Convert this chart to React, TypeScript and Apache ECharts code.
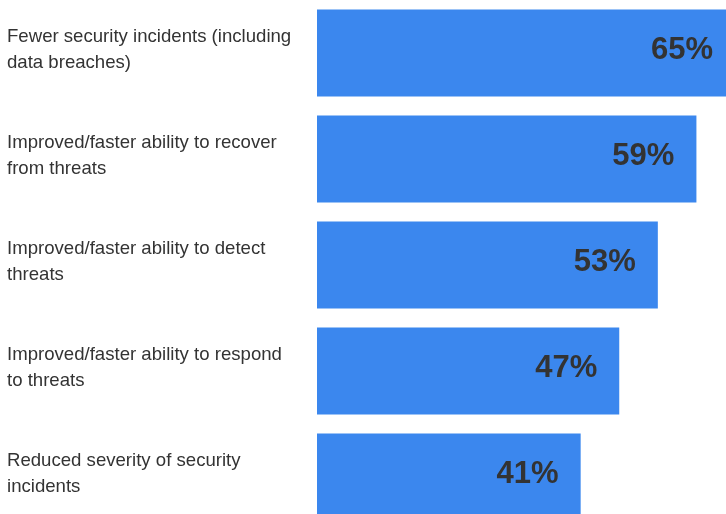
import React, { useEffect, useRef } from "react";
import * as echarts from "echarts";

const categories = [
  "Fewer security incidents (including\ndata breaches)",
  "Improved/faster ability to recover\nfrom threats",
  "Improved/faster ability to detect\nthreats",
  "Improved/faster ability to respond\nto threats",
  "Reduced severity of security\nincidents",
];
const values = [65, 59, 53, 47, 41];

export default function App() {
  const ref = useRef<HTMLDivElement>(null);
  useEffect(() => {
    const chart = echarts.init(ref.current!, undefined, { renderer: "svg" });
    chart.setOption({
      animation: false,
      grid: { left: 317, right: 0, top: 0, bottom: 0, containLabel: false },
      xAxis: {
        type: "value",
        min: 0,
        max: 65,
        show: false,
      },
      yAxis: {
        type: "category",
        data: categories,
        inverse: true,
        axisLine: { show: false },
        axisTick: { show: false },
        splitLine: { show: false },
        axisLabel: {
          align: "left",
          margin: 310,
          fontSize: 18.6,
          lineHeight: 26,
          color: "#333333",
          fontFamily: "'Liberation Sans', Arial, sans-serif",
          formatter: (v: string) => v + "\n{s| }",
          rich: { s: { lineHeight: 9, fontSize: 1 } },
        },
      },
      series: [
        {
          type: "bar",
          data: values,
          barWidth: 87,
          clip: false,
          itemStyle: { color: "#3b87ee" },
          label: {
            show: true,
            position: "insideRight",
            distance: 22,
            offset: [0, -5],
            formatter: "{c}%",
            fontSize: 31,
            fontWeight: "bold",
            color: "#333333",
            fontFamily: "'Liberation Sans', Arial, sans-serif",
          },
        },
      ],
    });
    return () => chart.dispose();
  }, []);
  return (
    <div
      style={{
        position: "fixed",
        left: 0,
        top: 0,
        width: 726,
        height: 514,
        overflow: "hidden",
      }}
    >
      <div ref={ref} style={{ width: 735, height: 530 }} />
    </div>
  );
}
